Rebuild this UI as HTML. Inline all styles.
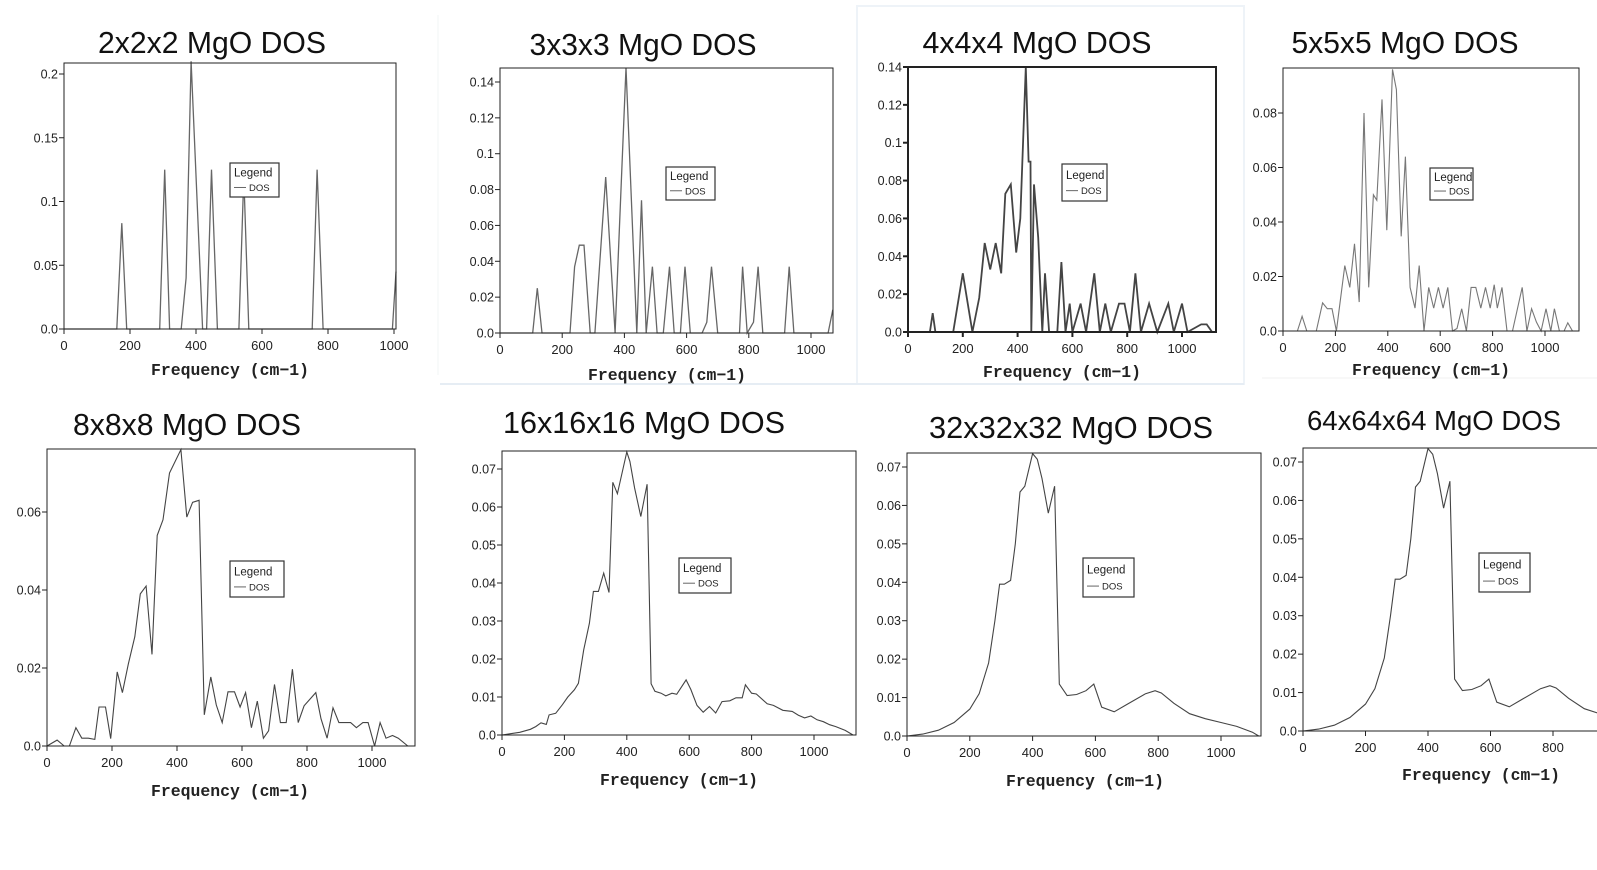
<!DOCTYPE html>
<html><head><meta charset="utf-8">
<style>
html,body{margin:0;padding:0;background:#fff;}
svg{display:block;}
</style></head>
<body>
<svg id="s" xmlns="http://www.w3.org/2000/svg" width="1597" height="870" viewBox="0 0 1597 870">
<rect width="1597" height="870" fill="#fff"/>
<line x1="438" y1="15" x2="438" y2="375" stroke="#f2f4f6" stroke-width="1"/>
<rect x="857" y="6" width="387" height="378" fill="none" stroke="#eef3f8" stroke-width="2"/>
<line x1="440" y1="384" x2="1244" y2="384" stroke="#e6edf4" stroke-width="2"/>
<line x1="1262" y1="378" x2="1597" y2="378" stroke="#f0f0f0" stroke-width="1"/>
</svg>
<script>
var NS="http://www.w3.org/2000/svg";
var svg=document.getElementById('s');
function el(t,a,txt){var e=document.createElementNS(NS,t);for(var k in a)e.setAttribute(k,a[k]);if(txt!==undefined)e.textContent=txt;svg.appendChild(e);return e;}
function panel(o){
  var X=function(v){return o.x0+(v)*(o.x1000-o.x0)/1000;};
  var Y=function(v){return o.y0-(v)*o.ypu;};
  var aw=o.aw||1;
  el('text',{x:o.tc,y:o.tb,'text-anchor':'middle','font-family':'"Liberation Sans",sans-serif','font-size':o.tfs||31,textLength:o.tw,lengthAdjust:'spacingAndGlyphs',fill:'#111'},o.title);
  var pts=o.data.map(function(p){return X(p[0]).toFixed(1)+','+Y(p[1]).toFixed(1);}).join(' ');
  el('polyline',{points:pts,fill:'none',stroke:o.lc||'#666','stroke-width':o.lw||1.1});
  el('rect',{x:o.x0,y:o.top,width:o.right-o.x0,height:o.y0-o.top,fill:'none',stroke:'#222','stroke-width':aw});
  o.yt.forEach(function(t){var y=Y(t[0]);
    el('line',{x1:o.x0-5,y1:y,x2:o.x0,y2:y,stroke:'#222','stroke-width':aw});
    el('text',{x:o.x0-6,y:y+4.5,'text-anchor':'end','font-family':'"Liberation Sans",sans-serif','font-size':12.5,fill:'#222'},t[1]);});
  o.xt.forEach(function(t){var x=X(t);
    el('line',{x1:x,y1:o.y0,x2:x,y2:o.y0+5,stroke:'#222','stroke-width':aw});
    el('text',{x:x,y:o.y0+21,'text-anchor':'middle','font-family':'"Liberation Sans",sans-serif','font-size':13,fill:'#222'},String(t));});
  el('text',{x:o.xlc,y:o.xlb,'text-anchor':'middle','font-family':'"Liberation Mono",monospace','font-size':17,'font-weight':'bold',textLength:158,lengthAdjust:'spacingAndGlyphs',fill:'#222'},'Frequency (cm\u22121)');
  var L=o.leg;
  el('rect',{x:L[0],y:L[1],width:L[2]-L[0],height:L[3]-L[1],fill:'#fff',stroke:'#333','stroke-width':1.2});
  var h=L[3]-L[1];
  el('text',{x:L[0]+4,y:L[1]+h*0.4,'font-family':'"Liberation Sans",sans-serif','font-size':11.5,fill:'#222'},'Legend');
  el('line',{x1:L[0]+4,y1:L[1]+h*0.72,x2:L[0]+16,y2:L[1]+h*0.72,stroke:'#666','stroke-width':1});
  el('text',{x:L[0]+19,y:L[1]+h*0.72+3.5,'font-family':'"Liberation Sans",sans-serif','font-size':9.5,fill:'#222'},'DOS');
}
var xt=[0,200,400,600,800,1000];

var d1=[[0,0],[160,0],[175,0.083],[190,0],[290,0],[305,0.125],[320,0],[355,0],[370,0.04],[385,0.21],[420,0],[432,0],[447,0.125],[465,0],[530,0],[545,0.12],[560,0],[752,0],[767,0.125],[785,0],[995,0],[1006,0.045]];
panel({title:'2x2x2 MgO DOS',tc:212,tb:53,tw:228,x0:64,x1000:394,right:396,top:63,y0:329,ypu:(329-74)/0.2,
 data:d1,yt:[[0,'0.0'],[0.05,'0.05'],[0.1,'0.1'],[0.15,'0.15'],[0.2,'0.2']],xt:xt,xlc:230,xlb:375,leg:[230,163,279,197],lw:1.3});

var d2=[[0,0],[105,0],[120,0.025],[135,0],[225,0],[240,0.037],[255,0.049],[270,0.049],[290,0],[305,0],[340,0.087],[370,0],[405,0.148],[440,0],[455,0.074],[470,0],[490,0.037],[505,0],[525,0],[545,0.037],[560,0],[580,0],[595,0.037],[612,0],[650,0],[665,0.006],[680,0.037],[700,0],[770,0],[780,0.037],[795,0],[815,0.006],[830,0.037],[845,0],[915,0],[930,0.037],[945,0],[1055,0],[1070,0.013]];
panel({title:'3x3x3 MgO DOS',tc:643,tb:55,tw:227,x0:500,x1000:811,right:833,top:68,y0:333,ypu:(333-82)/0.14,
 data:d2,yt:[[0,'0.0'],[0.02,'0.02'],[0.04,'0.04'],[0.06,'0.06'],[0.08,'0.08'],[0.1,'0.1'],[0.12,'0.12'],[0.14,'0.14']],xt:xt,xlc:667,xlb:380,leg:[666,167,715,200],lw:1.3});

var d3=[[0,0],[80,0],[90,0.01],[100,0],[165,0],[200,0.031],[235,0],[260,0.018],[280,0.047],[300,0.033],[320,0.047],[340,0.031],[355,0.073],[375,0.078],[395,0.042],[410,0.06],[430,0.14],[440,0.09],[447,0.09],[450,0],[460,0.078],[475,0.05],[490,0],[500,0.031],[515,0],[545,0],[560,0.037],[575,0],[590,0.015],[600,0],[630,0.015],[650,0],[680,0.031],[700,0],[720,0.015],[740,0],[770,0.015],[790,0.015],[810,0],[830,0.031],[850,0],[880,0.015],[910,0],[950,0.015],[970,0],[1000,0.015],[1020,0],[1070,0.004],[1090,0.004],[1110,0]];
panel({title:'4x4x4 MgO DOS',tc:1037,tb:53,tw:229,x0:908,x1000:1182,right:1216,top:67,y0:332,ypu:(332-67)/0.14,aw:2,
 data:d3,yt:[[0,'0.0'],[0.02,'0.02'],[0.04,'0.04'],[0.06,'0.06'],[0.08,'0.08'],[0.1,'0.1'],[0.12,'0.12'],[0.14,'0.14']],xt:xt,xlc:1062,xlb:377,leg:[1062,164,1107,201],lc:'#444',lw:1.8});

var d4=[[0,0],[55,0],[73,0.0054],[91,0],[127,0],[151,0.0103],[169,0.0082],[187,0.0082],[204,0],[236,0.024],[255,0.016],[273,0.032],[291,0.0106],[309,0.08],[327,0.016],[345,0.05],[358,0.048],[378,0.085],[396,0.037],[418,0.096],[433,0.0886],[451,0.0347],[467,0.064],[485,0.016],[504,0.0084],[520,0.024],[538,0],[556,0.016],[575,0.0084],[593,0.016],[611,0.0084],[629,0.016],[647,0],[664,0.0009],[682,0.0082],[700,0],[718,0.016],[736,0.016],[755,0.0084],[773,0.016],[791,0.0084],[806,0.017],[818,0.0084],[836,0.016],[855,0],[876,0],[913,0.016],[931,0],[949,0.0082],[967,0.0033],[985,0],[1004,0.0082],[1022,0],[1036,0.0082],[1055,0],[1073,0],[1087,0.003],[1105,0]];
panel({title:'5x5x5 MgO DOS',tc:1405,tb:53,tw:227,x0:1283,x1000:1545,right:1579,top:68,y0:331,ypu:(331-113)/0.08,
 data:d4,yt:[[0,'0.0'],[0.02,'0.02'],[0.04,'0.04'],[0.06,'0.06'],[0.08,'0.08']],xt:xt,xlc:1431,xlb:375,leg:[1430,168,1473,200],lc:'#777'});

var d5=[[0,0],[31,0.0015],[53,0],[69,0],[89,0.0047],[107,0.002],[127,0.002],[147,0.0017],[160,0.01],[180,0.01],[196,0.0019],[216,0.019],[232,0.0137],[250,0.021],[270,0.028],[287,0.039],[305,0.041],[323,0.0235],[339,0.054],[357,0.058],[377,0.07],[412,0.076],[430,0.0587],[448,0.0625],[468,0.063],[484,0.008],[504,0.0177],[521,0.0105],[539,0.006],[557,0.0139],[577,0.0139],[594,0.01],[611,0.0137],[629,0.0047],[647,0.0115],[666,0.002],[682,0.0039],[700,0.0158],[718,0.006],[736,0.006],[755,0.0197],[773,0.006],[791,0.0103],[827,0.0137],[843,0.007],[862,0.002],[880,0.0098],[898,0.006],[934,0.006],[952,0.0047],[972,0.006],[988,0.006],[1008,0],[1025,0.006],[1043,0.002],[1063,0.0027],[1081,0.002],[1110,0]];
panel({title:'8x8x8 MgO DOS',tc:187,tb:435,tw:228,x0:47,x1000:372,right:415,top:449,y0:746,ypu:(746-512)/0.06,
 data:d5,yt:[[0,'0.0'],[0.02,'0.02'],[0.04,'0.04'],[0.06,'0.06']],xt:xt,xlc:230,xlb:796,leg:[230,561,284,597],lc:'#444'});

var yt7=[[0,'0.0'],[0.01,'0.01'],[0.02,'0.02'],[0.03,'0.03'],[0.04,'0.04'],[0.05,'0.05'],[0.06,'0.06'],[0.07,'0.07']];
var d6=[[0,0],[57,0.0007],[91,0.0015],[108,0.0022],[125,0.0032],[142,0.0028],[151,0.0053],[172,0.0057],[194,0.008],[211,0.01],[232,0.0119],[245,0.0136],[262,0.0224],[280,0.0294],[293,0.0378],[309,0.0378],[326,0.0426],[343,0.0375],[355,0.0665],[370,0.0635],[400,0.0745],[410,0.072],[425,0.065],[445,0.0575],[465,0.066],[478,0.0135],[490,0.0115],[510,0.011],[525,0.0103],[545,0.011],[560,0.0107],[590,0.0145],[605,0.012],[625,0.0078],[645,0.006],[665,0.0075],[685,0.0058],[705,0.0088],[730,0.009],[750,0.0098],[770,0.0098],[780,0.0132],[800,0.011],[815,0.0108],[850,0.0082],[870,0.0078],[900,0.0065],[930,0.0062],[950,0.0052],[970,0.0045],[990,0.005],[1010,0.004],[1030,0.0035],[1050,0.0027],[1070,0.0022],[1100,0.0012],[1125,0]];
panel({title:'16x16x16 MgO DOS',tc:644,tb:433,tw:282,x0:502,x1000:814,right:856,top:451,y0:735,ypu:(735-469)/0.07,
 data:d6,yt:yt7,xt:xt,xlc:679,xlb:785,leg:[679,558,731,593],lc:'#444'});

var ds=[[0,0],[50,0.0005],[100,0.0015],[150,0.0035],[200,0.007],[230,0.011],[260,0.019],[280,0.03],[295,0.0395],[310,0.0395],[330,0.0405],[345,0.05],[360,0.0635],[375,0.065],[400,0.0735],[415,0.072],[430,0.067],[450,0.058],[470,0.065],[485,0.0135],[510,0.0105],[540,0.0108],[570,0.0118],[595,0.0135],[620,0.0075],[660,0.0063],[700,0.0082],[760,0.011],[790,0.0118],[810,0.0112],[850,0.0085],[900,0.0058],[950,0.0045],[1000,0.0035],[1050,0.0025],[1100,0.001],[1120,0]];
panel({title:'32x32x32 MgO DOS',tc:1071,tb:438,tw:284,x0:907,x1000:1221,right:1261,top:453,y0:736,ypu:(736-467)/0.07,
 data:ds,yt:yt7,xt:xt,xlc:1085,xlb:786,leg:[1083,558,1134,597],lc:'#444'});
panel({title:'64x64x64 MgO DOS',tc:1434,tb:430,tw:254,tfs:28,x0:1303,x1000:1303+(1553-1303)*1.25,right:1600,top:448,y0:731,ypu:(731-462)/0.07,
 data:ds,yt:yt7,xt:[0,200,400,600,800],xlc:1481,xlb:780,leg:[1479,553,1530,592],lc:'#444'});
</script>
</body></html>
